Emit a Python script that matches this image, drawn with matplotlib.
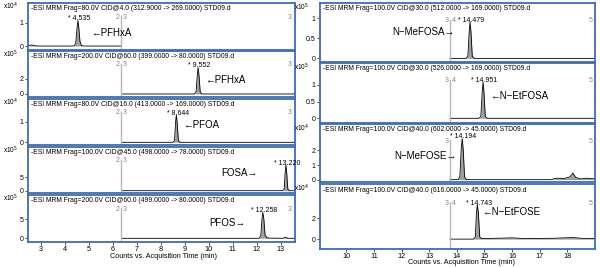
import matplotlib
matplotlib.use('Agg')
import matplotlib.pyplot as plt

plt.rcParams['font.family'] = ['Liberation Sans', 'DejaVu Sans']

# ---- titles / scale exponents ----
left_titles = [
    "-ESI MRM Frag=80.0V CID@4.0 (312.9000 -> 269.0000) STD09.d",
    "-ESI MRM Frag=200.0V CID@60.0 (399.0000 -> 80.0000) STD09.d",
    "-ESI MRM Frag=80.0V CID@16.0 (413.0000 -> 169.0000) STD09.d",
    "-ESI MRM Frag=100.0V CID@45.0 (498.0000 -> 78.0000) STD09.d",
    "-ESI MRM Frag=200.0V CID@60.0 (499.0000 -> 80.0000) STD09.d",
]
right_titles = [
    "-ESI MRM Frag=100.0V CID@30.0 (512.0000 -> 169.0000) STD09.d",
    "-ESI MRM Frag=100.0V CID@30.0 (526.0000 -> 169.0000) STD09.d",
    "-ESI MRM Frag=100.0V CID@40.0 (602.0000 -> 45.0000) STD09.d",
    "-ESI MRM Frag=100.0V CID@40.0 (616.0000 -> 45.0000) STD09.d",
]
left_exp = [4, 5, 4, 5, 5]
right_exp = [5, 5, 4, 4]
left_yticks = [[0, 1], [0, 2], [0, 1], [0, 5], [0, 5]]
right_yticks = [[0, 0.5, 1], [0, 0.5, 1], [0, 1, 2], [0, 2]]

left_names = ["\u2190PFHxA", "\u2190PFHxA", "\u2190PFOA", "FOSA\u2192", "PFOS\u2192"]
right_names = ["N\u2212MeFOSA\u2192", "\u2190N\u2212EtFOSA", "N\u2212MeFOSE\u2192", "\u2190N\u2212EtFOSE"]
left_rt = [4.535, 9.552, 8.644, 13.220, 12.258]
right_rt = [14.479, 14.951, 14.194, 14.743]

# ---- traces (time in min, counts in units of 10^exp) ----
t_pfhxa1 = [2.5, 2.6, 2.7, 2.9, 4.30, 4.40, 4.45, 4.50, 4.535, 4.57, 4.62, 4.68, 4.80, 6.35]
i_pfhxa1 = [0.02, 0.05, 0.02, 0.0, 0.0, 0.02, 0.20, 0.80, 1.10, 0.80, 0.20, 0.02, 0.0, 0.0]
t_pfhxa2 = [6.35, 9.40, 9.47, 9.52, 9.552, 9.59, 9.64, 9.70, 13.6]
i_pfhxa2 = [0.0, 0.0, 0.3, 2.5, 3.5, 2.5, 0.3, 0.0, 0.0]
t_pfoa = [6.35, 8.50, 8.57, 8.61, 8.644, 8.68, 8.73, 8.80, 13.6]
i_pfoa = [0.0, 0.0, 0.08, 0.95, 1.33, 0.95, 0.08, 0.0, 0.0]
t_fosa = [6.35, 13.08, 13.15, 13.19, 13.22, 13.25, 13.30, 13.36, 13.6]
i_fosa = [0.0, 0.0, 0.6, 7.0, 9.6, 7.0, 0.6, 0.0, 0.0]
t_pfos = [6.35, 12.10, 12.17, 12.22, 12.258, 12.30, 12.35, 12.42, 12.50, 13.10, 13.20, 13.30, 13.6]
i_pfos = [0.0, 0.0, 0.6, 5.0, 6.8, 5.0, 0.8, 0.25, 0.05, 0.0, 0.3, 0.0, 0.0]

t_mefosa = [13.75, 14.33, 14.40, 14.45, 14.479, 14.51, 14.56, 14.63, 19.0]
i_mefosa = [0.0, 0.0, 0.05, 0.68, 0.91, 0.68, 0.05, 0.0, 0.0]
t_etfosa = [13.75, 14.80, 14.87, 14.92, 14.951, 14.98, 15.03, 15.10, 19.0]
i_etfosa = [0.0, 0.0, 0.06, 0.80, 1.08, 0.80, 0.06, 0.0, 0.0]
t_mefose = [13.75, 14.05, 14.11, 14.16, 14.194, 14.23, 14.28, 14.35, 17.4, 17.6, 17.9, 18.1, 18.2, 18.3, 18.5, 18.7, 19.0]
i_mefose = [0.0, 0.0, 0.2, 2.1, 2.8, 2.1, 0.2, 0.0, 0.0, 0.1, 0.08, 0.2, 0.45, 0.15, 0.05, 0.1, 0.05]
t_etfose = [13.75, 14.60, 14.67, 14.71, 14.743, 14.78, 14.83, 14.90, 15.4, 16.0, 16.5, 17.5, 18.2, 18.5, 19.0]
i_etfose = [0.0, 0.0, 0.2, 2.5, 3.3, 2.5, 0.2, 0.05, 0.08, 0.12, 0.05, 0.08, 0.15, 0.08, 0.05]

left_traces = [(t_pfhxa1, i_pfhxa1), (t_pfhxa2, i_pfhxa2), (t_pfoa, i_pfoa),
               (t_fosa, i_fosa), (t_pfos, i_pfos)]
right_traces = [(t_mefosa, i_mefosa), (t_etfosa, i_etfosa),
                (t_mefose, i_mefose), (t_etfose, i_etfose)]

# ---- layout (pixels) ----
W, H = 600, 267
BLUE = '#3f6cb5'
fig = plt.figure(figsize=(6, 2.67), dpi=100)


def add_px_axes(l, t, r, b):
    return fig.add_axes([l / W, 1 - b / H, (r - l) / W, (b - t) / H])


def draw_panel(ax, title, exp, yticks, ylim, xlim, trace, rt, name, name_pos, ha,
               divider, seg_labels, bottom):
    t, i = trace
    ax.fill_between(t, 0, i, color='#a0a0a0', lw=0)
    ax.plot(t, i, color='black', lw=0.6)
    ax.axvline(divider, ymin=0, ymax=0.72, color='#b8b8b8', lw=1.0)
    ax.set_xlim(*xlim)
    ax.set_ylim(*ylim)
    for s in ax.spines.values():
        s.set_color(BLUE)
        s.set_linewidth(1.3)
    ax.set_yticks(yticks)
    ax.set_yticklabels([('%g' % v) for v in yticks])
    ax.tick_params(axis='y', length=2, width=0.6, pad=1, labelsize=5, color='#333333')
    if bottom:
        ax.tick_params(axis='x', length=2, width=0.6, pad=1, labelsize=5.2, color='#333333')
    else:
        ax.tick_params(axis='x', length=0, labelbottom=False)
    ax.text(0.012, 0.96, title, transform=ax.transAxes, fontsize=4.9, va='top', ha='left')
    ax.text(-0.095, 0.93, r'x10$^{%d}$' % exp, transform=ax.transAxes, fontsize=4.8,
            va='center', ha='left', clip_on=False)
    pk = max(i)
    ax.annotate('* %.3f' % rt, (rt, pk), xytext=(1, 1.2), textcoords='offset points',
                fontsize=5, ha='center', va='center')
    ax.text(name_pos[0], name_pos[1], name, transform=ax.get_xaxis_transform(),
            fontsize=7, ha=ha, va='center')
    for (x, lab, h) in seg_labels:
        ax.text(x, 0.70, lab, transform=ax.get_xaxis_transform(), fontsize=5,
                color='#888888', ha=h, va='center')


left_boxes = [(3, 50), (51, 97), (99, 145), (147, 193), (195, 242)]
left_ylims = [(-0.17, 1.85), (-0.4, 5.7), (-0.13, 2.1), (-0.86, 16.3), (-0.97, 11.4)]
left_name_pos = [(5.10, 0.36), (9.84, 0.37), (8.92, 0.43), (12.05, 0.44), (11.51, 0.41)]
left_ha = ['left', 'left', 'left', 'right', 'right']
left_seg = [(6.28, '2', 'right'), (6.42, '3', 'left'), (13.45, '3', 'right')]

for k, (tp, bt) in enumerate(left_boxes):
    ax = add_px_axes(28, tp, 295, bt)
    seg = left_seg if k != 3 else left_seg[:2]
    draw_panel(ax, left_titles[k], left_exp[k], left_yticks[k], left_ylims[k],
               (2.45, 13.6), left_traces[k], left_rt[k], left_names[k],
               left_name_pos[k], left_ha[k], 6.35, seg, k == 4)
    if k == 4:
        ax.set_xticks(range(3, 14))

right_boxes = [(3, 62), (63, 123), (124, 182), (184, 249)]
right_ylims = [(-0.09, 1.38), (-0.14, 1.65), (-0.16, 3.8), (-0.95, 5.3)]
right_name_pos = [(13.92, 0.51), (15.19, 0.45), (13.99, 0.45), (14.90, 0.57)]
right_ha = ['right', 'left', 'right', 'left']
right_seg = [(13.70, '3', 'right'), (13.82, '4', 'left'), (18.9, '5', 'right')]

for k, (tp, bt) in enumerate(right_boxes):
    ax = add_px_axes(320, tp, 595, bt)
    seg = right_seg if k != 2 else [right_seg[0], right_seg[2]]
    draw_panel(ax, right_titles[k], right_exp[k], right_yticks[k], right_ylims[k],
               (9.05, 19.0), right_traces[k], right_rt[k], right_names[k],
               right_name_pos[k], right_ha[k], 13.75, seg, k == 3)
    if k == 3:
        ax.set_xticks(range(10, 19))

fig.text(163 / W, 1 - 256 / H, 'Counts vs. Acquisition Time (min)', fontsize=5.2,
         ha='center', va='center')
fig.text(461 / W, 1 - 263 / H, 'Counts vs. Acquisition Time (min)', fontsize=5.2,
         ha='center', va='center')

fig.savefig('out.png', dpi=100, facecolor='white')
